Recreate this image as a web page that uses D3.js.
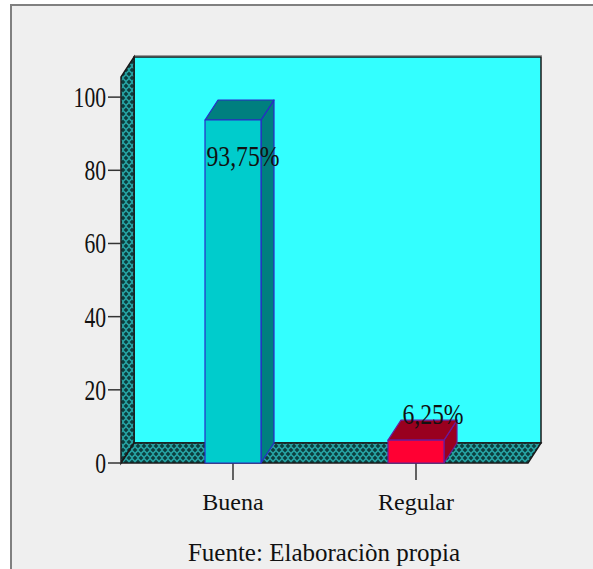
<!DOCTYPE html>
<html>
<head>
<meta charset="utf-8">
<script src="https://cdn.jsdelivr.net/npm/d3@7/dist/d3.min.js"></script>
<style>
  html, body { margin: 0; padding: 0; background: #ffffff; }
  svg { display: block; }
</style>
</head>
<body>
<svg id="chart" width="593" height="569"></svg>
<script>
// Survey result: share of answers per rating
const categories = ["Buena", "Regular"];
const percents = [93.75, 6.25];
const valueLabels = ["93,75%", "6,25%"];
const tickValues = [0, 20, 40, 60, 80, 100];
const frontColors = ["#00cccc", "#ff0033"];
const shadeColors = ["#007f7f", "#99001f"];
const edgeColors = ["#2a2ac8", "#6a1a9a"];
const caption = "Fuente: Elaboraciòn propia";

const FONT = '"Liberation Serif"';
const svg = d3.select("#chart");
const W = 593, H = 569;

// 3D depth offset of the box
const DX = 13, DY = -20;

const y = d3.scaleLinear().domain([0, 105.5]).range([463, 77]);
const x = d3.scaleBand().domain(categories).range([121, 528])
  .paddingInner(0.694).paddingOuter(0.459);

const x0 = x.range()[0], x1 = x.range()[1];
const y0 = y(0), yTop = y(y.domain()[1]);

// outer panel
svg.append("rect").attr("x", 11).attr("y", 5).attr("width", W).attr("height", H)
  .attr("fill", "#efefef").attr("stroke", "#808080").attr("stroke-width", 2);

// cross-hatch pattern for walls
const defs = svg.append("defs");
const pat = defs.append("pattern").attr("id", "wallPat")
  .attr("patternUnits", "userSpaceOnUse").attr("width", 6).attr("height", 8);
pat.append("rect").attr("width", 6).attr("height", 8).attr("fill", "#259d9d");
[[3, 2], [0, 6], [6, 6]].forEach(([cx, cy]) => {
  pat.append("path")
    .attr("d", `M${cx - 2},${cy}H${cx + 2}M${cx},${cy - 2}V${cy + 2}`)
    .attr("stroke", "#0a3838").attr("stroke-width", 1.5);
});

const poly = pts => "M" + pts.map(p => p.join(",")).join("L") + "Z";

// back wall
svg.append("rect")
  .attr("x", x0 + DX).attr("y", yTop + DY)
  .attr("width", x1 - x0).attr("height", y0 - yTop)
  .attr("fill", "#33ffff").attr("stroke", "#1a1a1a").attr("stroke-width", 1.5);
svg.append("line")
  .attr("x1", x0 + DX).attr("x2", x1 + DX + 1)
  .attr("y1", yTop + DY - 1.5).attr("y2", yTop + DY - 1.5)
  .attr("stroke", "#9a9a9a").attr("stroke-width", 1.2);

// left side wall
svg.append("path")
  .attr("d", poly([[x0, y0], [x0 + DX, y0 + DY], [x0 + DX, yTop + DY], [x0, yTop]]))
  .attr("fill", "url(#wallPat)").attr("stroke", "#1a1a1a").attr("stroke-width", 1.5);

// floor
svg.append("path")
  .attr("d", poly([[x0, y0], [x0 + DX, y0 + DY], [x1 + DX, y0 + DY], [x1, y0]]))
  .attr("fill", "url(#wallPat)").attr("stroke", "#1a1a1a").attr("stroke-width", 1.5);

// y axis ticks and labels
const yAxis = svg.append("g");
tickValues.forEach(v => {
  yAxis.append("line").attr("x1", x0 - 13).attr("x2", x0)
    .attr("y1", y(v)).attr("y2", y(v))
    .attr("stroke", "#333").attr("stroke-width", 1.5);
  yAxis.append("text")
    .attr("transform", `translate(${x0 - 15},${y(v) + 10}) scale(0.72,1)`)
    .style("font-family", FONT)
    .attr("text-anchor", "end").attr("font-size", 30).attr("fill", "#111").text(v);
});

// x ticks
categories.forEach(c => {
  const cx = x(c) + x.bandwidth() / 2;
  svg.append("line").attr("x1", cx).attr("x2", cx)
    .attr("y1", y0).attr("y2", y0 + 17)
    .attr("stroke", "#333").attr("stroke-width", 1.5);
  svg.append("text").attr("x", cx).attr("y", 510)
    .style("font-family", FONT)
    .attr("text-anchor", "middle").attr("font-size", 24).attr("fill", "#111").text(c);
});

// bars
categories.forEach((c, i) => {
  const bx = x(c), bw = x.bandwidth();
  const top = y(percents[i]);
  const g = svg.append("g").attr("stroke", edgeColors[i]).attr("stroke-width", 1.2)
    .attr("stroke-linejoin", "round");
  // side face
  g.append("path")
    .attr("d", poly([[bx + bw, y0], [bx + bw, top], [bx + bw + DX, top + DY], [bx + bw + DX, y0 + DY]]))
    .attr("fill", shadeColors[i]);
  // top face
  g.append("path")
    .attr("d", poly([[bx, top], [bx + DX, top + DY], [bx + bw + DX, top + DY], [bx + bw, top]]))
    .attr("fill", shadeColors[i]);
  // front face
  g.append("rect").attr("x", bx).attr("y", top).attr("width", bw).attr("height", y0 - top)
    .attr("fill", frontColors[i]);
});

// value labels
categories.forEach((c, i) => {
  const cx = x(c) + x.bandwidth() / 2;
  const top = y(percents[i]);
  const inside = (y0 - top) > 60;
  const ly = inside ? top + 46 : top - 16;
  const lx = cx + (inside ? 10 : 17);
  svg.append("text")
    .attr("transform", `translate(${lx},${ly}) scale(0.79,1)`)
    .style("font-family", FONT)
    .attr("text-anchor", "middle").attr("font-size", 30).attr("fill", "#111").text(valueLabels[i]);
});

// source note
svg.append("text").attr("x", 324).attr("y", 561)
  .style("font-family", FONT)
  .attr("text-anchor", "middle").attr("font-size", 25).attr("fill", "#111").text(caption);
</script>
</body>
</html>
